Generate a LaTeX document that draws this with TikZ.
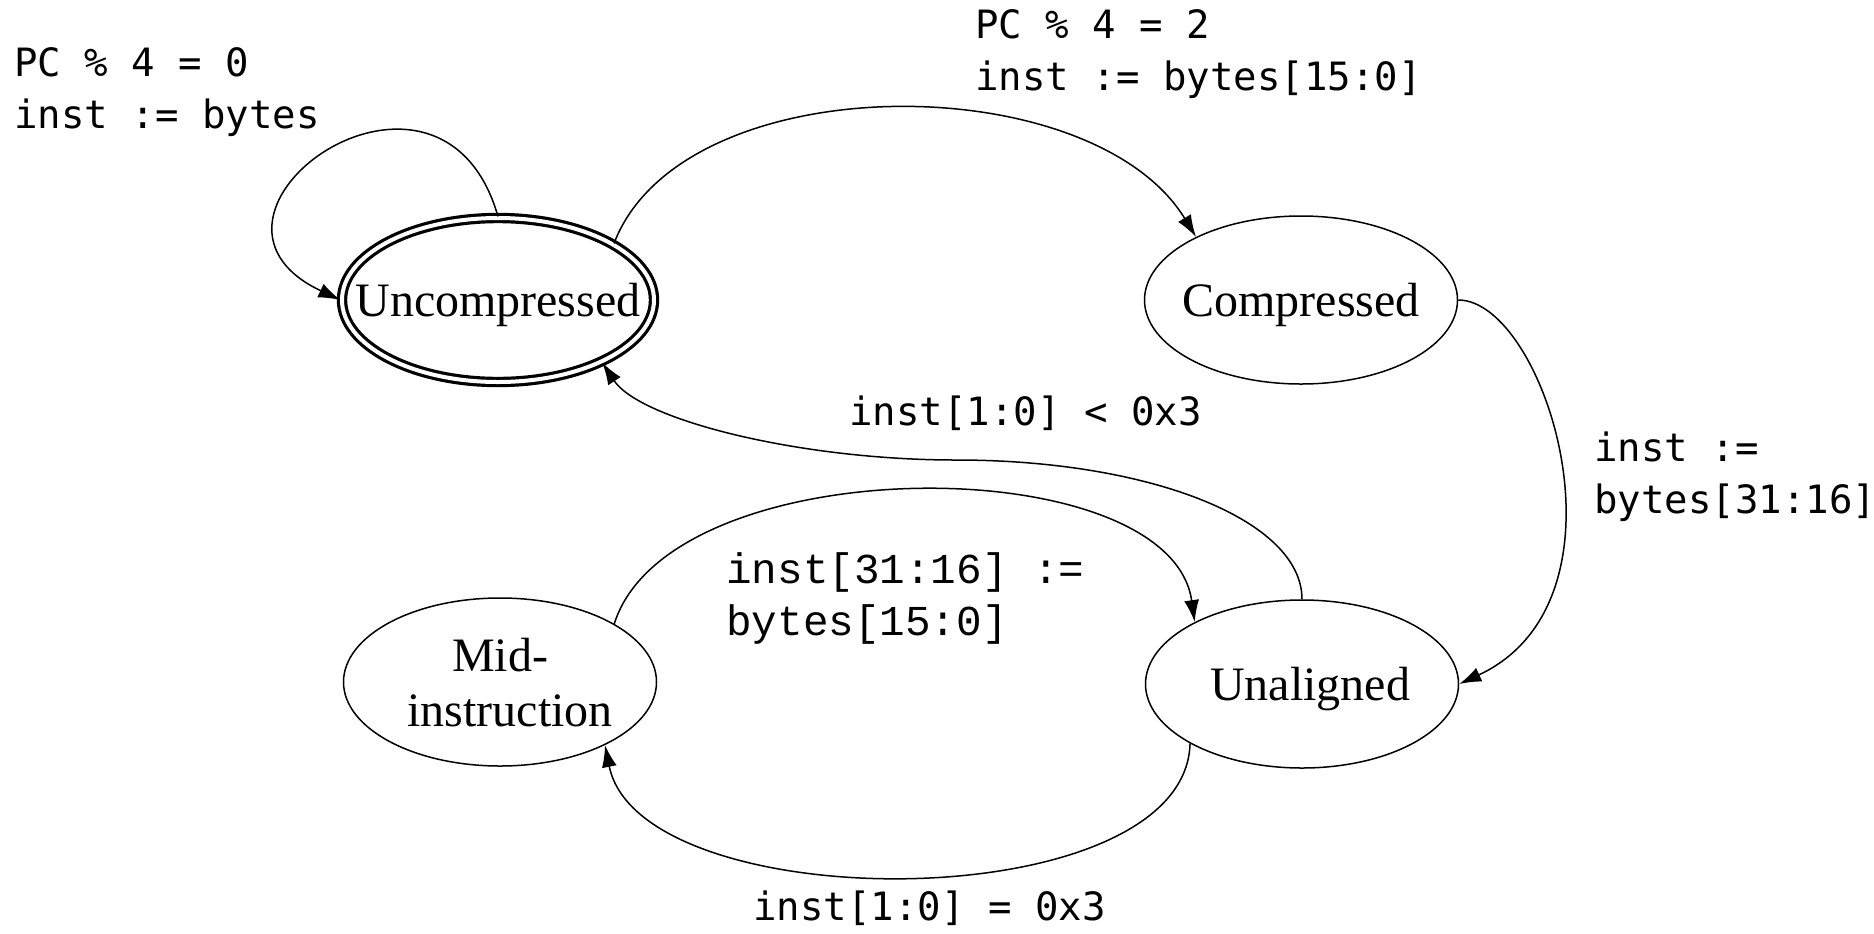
\documentclass[tikz,border=0pt]{standalone}
\usepackage{fontspec}
\setmainfont{Liberation Serif}
\newfontfamily\consfont{DejaVu Sans Mono}
\newfontfamily\courfont{Liberation Mono}
\usetikzlibrary{shapes.geometric,arrows.meta}

\begin{document}
\begin{tikzpicture}[x=0.5pt, y=-0.5pt,
    state/.style={draw, ellipse, line width=0.75pt, minimum width=156.5pt, minimum height=84pt,
        inner sep=0pt, inner xsep=-20pt, text depth=0pt, align=center, font=\fontsize{24}{27.5}\selectfont},
    accept/.style={state, double, line width=1.6pt, double distance=2pt,
        minimum width=156pt, minimum height=82pt},
    edge/.style={line width=0.75pt, -{Latex[length=11pt, width=7.5pt]}},
    cond/.style={anchor=base west, inner sep=0pt, align=left, font=\consfont\fontsize{19.5}{26}\selectfont},
    assign/.style={cond, font=\courfont\fontsize{21.3}{26}\selectfont}]

    \useasboundingbox (0,0) rectangle (1874,933);

    \node[accept] (unc) at (498,300) {Uncompressed};
    \node[state] (comp) at (1301,300) {Compressed};
    \node[state] (mid) at (500,682) {Mid-\\\hspace*{10pt}instruction};
    \node[state] (unal) at (1302,684) {\hspace*{8pt}Unaligned};

    \draw[edge] (unc.north) .. controls (440,15) and (160,215) .. (unc.west);
    \draw[edge] (unc.26) .. controls (682,65) and (1091,65) .. (comp.149);
    \draw[edge] (comp.east) .. controls (1545,300) and (1640,600) .. (unal.east);
    \draw[edge] (unal.north) .. controls (1302,520) and (1150,460) .. (956,460)
        .. controls (800,460) and (640,420) .. (unc.-31);
    \draw[edge] (mid.27) .. controls (670,447) and (1170,447) .. (unal.150);
    \draw[edge] (unal.208) .. controls (1185,920) and (640,920) .. (mid.-31);

    \node[cond] (selflbl) at (14,128) {PC \% 4 = 0\\inst := bytes};
    \node[cond] (complbl) at (975,90) {PC \% 4 = 2\\inst := bytes[15:0]};
    \node[cond] (backlbl) at (849,425) {inst[1:0] < 0x3};
    \node[cond] (unallbl) at (1594,513) {inst :=\\bytes[31:16]};
    \node[assign] (midlbl) at (726,635) {inst[31:16] :=\\bytes[15:0]};
    \node[cond] (retlbl) at (753,920) {inst[1:0] = 0x3};

\end{tikzpicture}
\end{document}
